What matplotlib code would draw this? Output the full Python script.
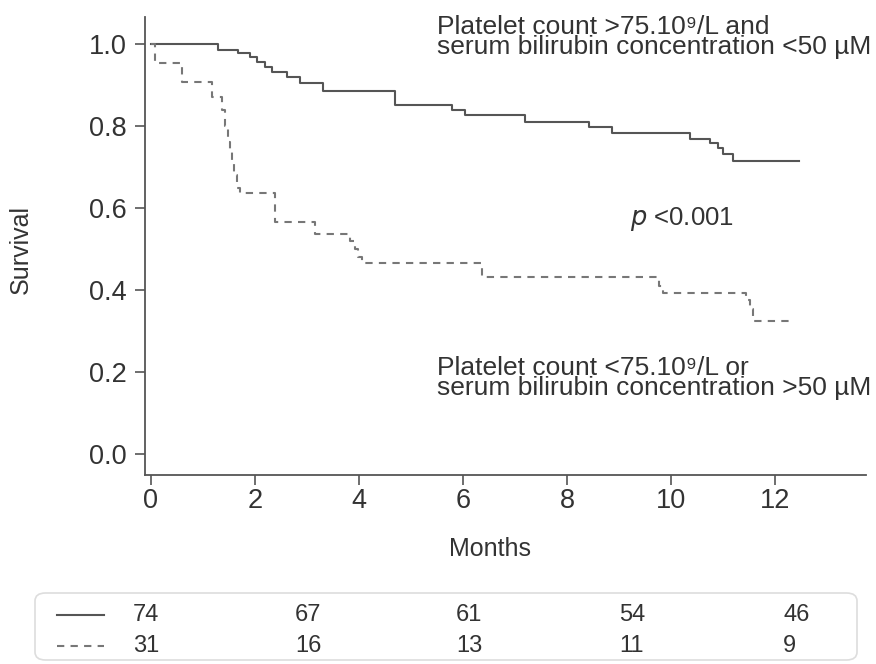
import numpy as np
import matplotlib
matplotlib.use("Agg")
import matplotlib.pyplot as plt
from matplotlib.patches import FancyBboxPatch

plt.rcParams['font.family'] = ['Liberation Sans', 'DejaVu Sans']

# Kaplan-Meier curves (time in months, survival)
good_t = [0, 1.28, 1.68, 1.90, 2.03, 2.19, 2.32, 2.61, 2.87, 3.31, 4.69, 5.78, 6.04,
          7.19, 8.42, 8.86, 10.37, 10.75, 10.91, 11.0, 11.2, 12.46]
good_s = [1.0, 0.985, 0.979, 0.969, 0.957, 0.945, 0.932, 0.920, 0.904, 0.886, 0.851, 0.839, 0.827,
          0.810, 0.797, 0.782, 0.768, 0.758, 0.746, 0.733, 0.715, 0.715]

poor_t = [0, 0.08, 0.59, 1.17, 1.36, 1.42, 1.48, 1.52, 1.56, 1.60, 1.65, 1.71, 2.38, 3.15,
          3.83, 3.92, 3.98, 4.05, 4.12, 6.36, 9.76, 9.85, 11.45, 11.52, 11.58, 12.35]
poor_s = [1.0, 0.953, 0.908, 0.871, 0.84, 0.80, 0.76, 0.74, 0.71, 0.68, 0.65, 0.636, 0.567, 0.536,
          0.52, 0.50, 0.48, 0.465, 0.465, 0.431, 0.410, 0.393, 0.375, 0.355, 0.325, 0.325]

x_ticks = [0, 2, 4, 6, 8, 10, 12]
y_ticks = [0.0, 0.2, 0.4, 0.6, 0.8, 1.0]

# numbers at risk
risk_good = [74, 67, 61, 54, 46]
risk_poor = [31, 16, 13, 11, 9]

line_col = '#555555'
text_col = '#333333'

W, H = 876, 664
fig = plt.figure(figsize=(W / 100, H / 100), dpi=100)
ax = fig.add_axes([145 / W, 1 - 475 / H, (866 - 145) / W, (475 - 17) / H])

ax.plot(good_t, good_s, drawstyle='steps-post', color=line_col, lw=1.5)
ax.plot(poor_t, poor_s, drawstyle='steps-post', color='#777777', lw=1.5, ls=(0, (3.5, 3)))

ax.set_xlim(-0.115, 13.75)
ax.set_ylim(-0.051, 1.066)
ax.set_xticks(x_ticks)
ax.set_yticks(y_ticks)
ax.set_yticklabels([f'{v:.1f}' for v in y_ticks])
for s in ['top', 'right']:
    ax.spines[s].set_visible(False)
for s in ['left', 'bottom']:
    ax.spines[s].set_color(line_col)
    ax.spines[s].set_linewidth(1.3)
ax.tick_params(colors=line_col, labelcolor=text_col, labelsize=19.5, length=7, width=1.2)
ax.tick_params(axis='y', pad=6)
ax.tick_params(axis='x', pad=2)
ax.set_xlabel('Months', fontsize=18, color=text_col)
ax.xaxis.set_label_coords(0.4785, -0.135)

def fig_text(px, py, s, **kw):
    fig.text(px / W, 1 - py / H, s, color=text_col, **kw)

fig_text(21, 250, 'Survival', fontsize=18, rotation=90, ha='center', va='center')

fig_text(437, 15, 'Platelet count >75.10⁹/L and\nserum bilirubin concentration <50 µM',
         fontsize=19, va='top', linespacing=0.8)
fig_text(437, 356, 'Platelet count <75.10⁹/L or\nserum bilirubin concentration >50 µM',
         fontsize=19, va='top', linespacing=0.8)
fig_text(630, 219, '$p$ <0.001', fontsize=18.5, va='center')

# risk table box
box = FancyBboxPatch((35 / W, 1 - 660 / H), (857 - 35) / W, (660 - 593) / H,
                     boxstyle='round,pad=0,rounding_size=0.012',
                     transform=fig.transFigure, fc='white', ec='#dddddd', lw=1.2)
fig.patches.append(box)
fig.add_artist(plt.Line2D([57 / W, 104 / W], [1 - 615 / H] * 2, color=line_col, lw=1.5,
                          transform=fig.transFigure))
fig.add_artist(plt.Line2D([57 / W, 104 / W], [1 - 646 / H] * 2, color='#777777', lw=1.5,
                          ls=(0, (3.5, 3)), transform=fig.transFigure))
col_x = [133, 295, 456, 619, 783]
for cx, a, b in zip(col_x, risk_good, risk_poor):
    fig_text(cx, 615, str(a), fontsize=17, ha='left', va='center')
    fig_text(cx, 646, str(b), fontsize=17, ha='left', va='center')

fig.savefig('out.png', dpi=100)
